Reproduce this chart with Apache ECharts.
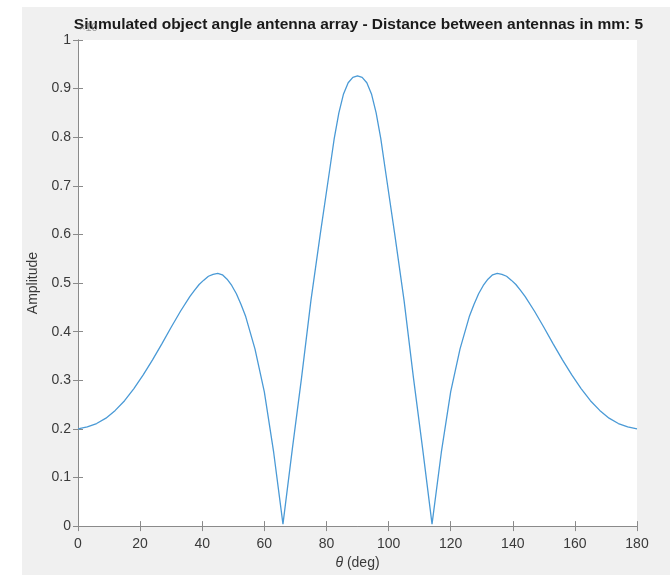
<!DOCTYPE html>
<html>
<head>
<meta charset="utf-8">
<script src="https://cdn.jsdelivr.net/npm/echarts@6/dist/echarts.min.js"></script>
<style>
  html, body { margin: 0; padding: 0; background: #fff; }
  #chart { width: 670px; height: 575px; }
</style>
</head>
<body>
<div id="chart"></div>
<script>
// Observation angle in degrees (finer steps around the lobe maxima)
const thetaDeg = [
  0, 3, 6, 9, 12, 15, 18, 21, 24, 27, 30, 33, 36, 37.5, 39, 40.5, 42, 43.5,
  45, 46.5, 48, 49.5, 51, 52.5, 54, 57, 60, 63, 66, 69, 72, 75, 78, 81, 82.5,
  84, 85.5, 87, 88.5, 90, 91.5, 93, 94.5, 96, 97.5, 99, 102, 105, 108, 111,
  114, 117, 120, 123, 126, 127.5, 129, 130.5, 132, 133.5, 135, 136.5, 138,
  139.5, 141, 142.5, 144, 147, 150, 153, 156, 159, 162, 165, 168, 171, 174,
  177, 180
];
// Normalised array-factor amplitude at each angle
const amplitude = [
  0.200, 0.204, 0.211, 0.222, 0.238, 0.258, 0.283, 0.311, 0.342, 0.375,
  0.409, 0.442, 0.472, 0.485, 0.497, 0.506, 0.514, 0.518, 0.520, 0.517,
  0.508, 0.495, 0.478, 0.456, 0.431, 0.364, 0.276, 0.152, 0.004, 0.158,
  0.306, 0.464, 0.600, 0.731, 0.797, 0.850, 0.889, 0.912, 0.923, 0.926,
  0.923, 0.912, 0.889, 0.850, 0.797, 0.731, 0.600, 0.464, 0.306, 0.158,
  0.004, 0.152, 0.276, 0.364, 0.431, 0.456, 0.478, 0.495, 0.508, 0.517,
  0.520, 0.518, 0.514, 0.506, 0.497, 0.485, 0.472, 0.442, 0.409, 0.375,
  0.342, 0.311, 0.283, 0.258, 0.238, 0.222, 0.211, 0.204, 0.200
];
const xTicks = [0, 20, 40, 60, 80, 100, 120, 140, 160, 180];
const yTicks = ['0', '0.1', '0.2', '0.3', '0.4', '0.5', '0.6', '0.7', '0.8', '0.9', '1'];
const titleText = 'Siumulated object angle antenna array - Distance between antennas in mm: 5';

const FONT = '"Liberation Sans", Arial, Helvetica, sans-serif';
const AXIS_COLOR = '#8a8a8a';
const LABEL_COLOR = '#3a3a3a';

const G = { left: 78, top: 40, width: 559, height: 490 };

const chart = echarts.init(document.getElementById('chart'), null, { renderer: 'canvas' });

const baseTick = { show: true, inside: true, length: 5, lineStyle: { color: AXIS_COLOR, width: 1 } };
const baseLine = { show: true, lineStyle: { color: AXIS_COLOR, width: 1 } };

chart.setOption({
  animation: false,
  backgroundColor: '#f0f0f0',
  textStyle: { fontFamily: FONT },
  graphic: [
    { type: 'rect', shape: { x: 0, y: 0, width: 22, height: 575 }, style: { fill: '#ffffff' }, silent: true },
    { type: 'rect', shape: { x: 0, y: 0, width: 670, height: 7 }, style: { fill: '#ffffff' }, silent: true },
    {
      type: 'text', x: G.left + G.width / 2 + 1, y: 25, silent: true,
      style: { text: titleText, fill: '#1a1a1a', font: 'bold 15.5px ' + FONT, align: 'center', verticalAlign: 'middle' }
    },
    {
      // exponent marker drawn over the start of the title
      type: 'text', x: 79, y: 28, silent: true,
      style: { text: '\u00d710', fill: 'rgba(120,120,120,0.75)', font: '11px ' + FONT, verticalAlign: 'middle', align: 'left' }
    }
  ],
  grid: {
    left: G.left, top: G.top, width: G.width, height: G.height,
    show: true, backgroundColor: '#ffffff', borderWidth: 0
  },
  xAxis: [
    {
      type: 'value', position: 'bottom', min: 0, max: 180, interval: 20,
      axisLine: baseLine, axisTick: baseTick, splitLine: { show: false },
      axisLabel: {
        margin: 11, color: LABEL_COLOR, fontSize: 14, fontFamily: FONT,
        formatter: v => String(xTicks[Math.round(v / 20)])
      },
      name: '{i|\u03b8} (deg)', nameLocation: 'middle', nameGap: 29,
      nameTextStyle: {
        color: LABEL_COLOR, fontSize: 14, fontFamily: FONT,
        rich: { i: { fontStyle: 'italic', fontSize: 14, fontFamily: FONT, color: LABEL_COLOR } }
      }
    },
    {
      type: 'value', position: 'top', min: 0, max: 180, interval: 20,
      axisLine: baseLine, axisTick: baseTick, axisLabel: { show: false }, splitLine: { show: false }
    }
  ],
  yAxis: [
    {
      type: 'value', position: 'left', min: 0, max: 1, interval: 0.1,
      axisLine: baseLine, axisTick: baseTick, splitLine: { show: false },
      axisLabel: {
        margin: 7, color: LABEL_COLOR, fontSize: 14, fontFamily: FONT,
        formatter: v => yTicks[Math.round(v * 10)]
      },
      name: 'Amplitude', nameLocation: 'middle', nameGap: 29,
      nameTextStyle: { color: LABEL_COLOR, fontSize: 14, fontFamily: FONT }
    },
    {
      type: 'value', position: 'right', min: 0, max: 1, interval: 0.1,
      axisLine: baseLine, axisTick: baseTick, axisLabel: { show: false }, splitLine: { show: false }
    }
  ],
  series: [
    {
      type: 'line',
      xAxisIndex: 0, yAxisIndex: 0,
      data: thetaDeg.map((t, i) => [t, amplitude[i]]),
      showSymbol: false, symbol: 'none',
      lineStyle: { color: '#4a9ad6', width: 1.3 },
      clip: true
    }
  ]
});
</script>
</body>
</html>
